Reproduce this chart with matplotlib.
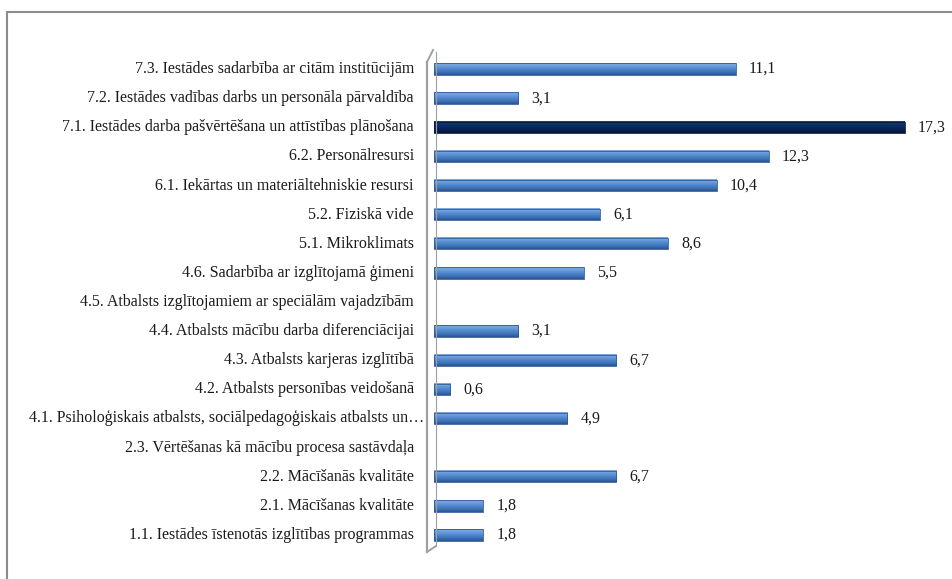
import numpy as np
import matplotlib
matplotlib.use('Agg')
import matplotlib.pyplot as plt
from matplotlib.lines import Line2D
from matplotlib.patches import Rectangle
from matplotlib.colors import LinearSegmentedColormap

labels = [
    '7.3. Iestādes sadarbība ar citām institūcijām',
    '7.2. Iestādes vadības darbs un personāla pārvaldība',
    '7.1. Iestādes darba pašvērtēšana un attīstības plānošana',
    '6.2. Personālresursi',
    '6.1. Iekārtas un materiāltehniskie resursi',
    '5.2. Fiziskā vide',
    '5.1. Mikroklimats',
    '4.6. Sadarbība ar izglītojamā ģimeni',
    '4.5. Atbalsts izglītojamiem ar speciālām vajadzībām',
    '4.4. Atbalsts mācību darba diferenciācijai',
    '4.3. Atbalsts karjeras izglītībā',
    '4.2. Atbalsts personības veidošanā',
    '4.1. Psiholoģiskais atbalsts, sociālpedagoģiskais atbalsts un…',
    '2.3. Vērtēšanas kā mācību procesa sastāvdaļa',
    '2.2. Mācīšanās kvalitāte',
    '2.1. Mācīšanas kvalitāte',
    '1.1. Iestādes īstenotās izglītības programmas',
]
values = [11.1, 3.1, 17.3, 12.3, 10.4, 6.1, 8.6, 5.5, None, 3.1, 6.7, 0.6, 4.9, None, 6.7, 1.8, 1.8]
highlight = '7.1. Iestādes darba pašvērtēšana un attīstības plānošana'

plt.rcParams['font.family'] = ['Liberation Serif', 'DejaVu Serif']

W, H = 953, 579
fig = plt.figure(figsize=(W / 100, H / 100), dpi=100)

# axes placed so that 0 sits at the wall and rows match the picture
x0, y_top, y_bot = 434, 54.5, 549.5
k = 27.2
xmax = (W - x0) / k
ax = fig.add_axes([x0 / W, (H - y_bot) / H, 1 - x0 / W, (y_bot - y_top) / H])
ax.set_xlim(0, xmax)
ax.set_ylim(len(labels) - 0.5, -0.5)
ax.axis('off')

# cylinder-like shading, top to bottom
blue = LinearSegmentedColormap.from_list('b', ['#7fa9de', '#6b9ddc', '#4f86cc', '#3f73b8', '#2a5592'])
navy = LinearSegmentedColormap.from_list('n', ['#1f3f7a', '#10306c', '#0b2860', '#082052', '#051638'])
grad = np.linspace(0, 1, 32).reshape(-1, 1)

h = 0.39
for i, (lab, v) in enumerate(zip(labels, values)):
    # the long 4.1 label runs into the wall, the others stop short of it
    lx = -10 / k if lab.endswith('…') else -20 / k
    ax.text(lx, i, lab, ha='right', va='center', fontsize=11.5, color='#1a1a1a')
    if v is None:
        continue
    cm = navy if lab == highlight else blue
    ax.imshow(grad, cmap=cm, extent=(0, v, i + h / 2, i - h / 2), aspect='auto',
              interpolation='bilinear', zorder=2)
    ax.barh(i, v, height=h, fill=False, edgecolor=cm(0.95), linewidth=0.6, zorder=3)
    ax.annotate(f'{v:.1f}'.replace('.', ','), (v, i), xytext=(9.5, 0),
                textcoords='offset points', va='center', ha='left', fontsize=11.5, color='#1a1a1a')
ax.set_xlim(0, xmax)
ax.set_ylim(len(labels) - 0.5, -0.5)

# 3d wall on the left of the bars
def px(x, y):
    return x / W, (H - y) / H

wall = '#a0a0a0'
for (xa, ya), (xb, yb), lw in [((427, 62), (427, 552), 1.6), ((427, 62), (433, 50), 1.4),
                              ((427, 552), (436, 546), 1.4), ((436, 52), (436, 546), 0.8)]:
    fig.add_artist(Line2D(*zip(px(xa, ya), px(xb, yb)), color=wall, lw=lw, zorder=1))

# outer border
fig.add_artist(Rectangle(px(7.5, 590), (W + 20) / W, 578.5 / H, fill=False,
                         edgecolor='#8c8c8c', lw=1.5))

fig.savefig('out.png', dpi=100)
